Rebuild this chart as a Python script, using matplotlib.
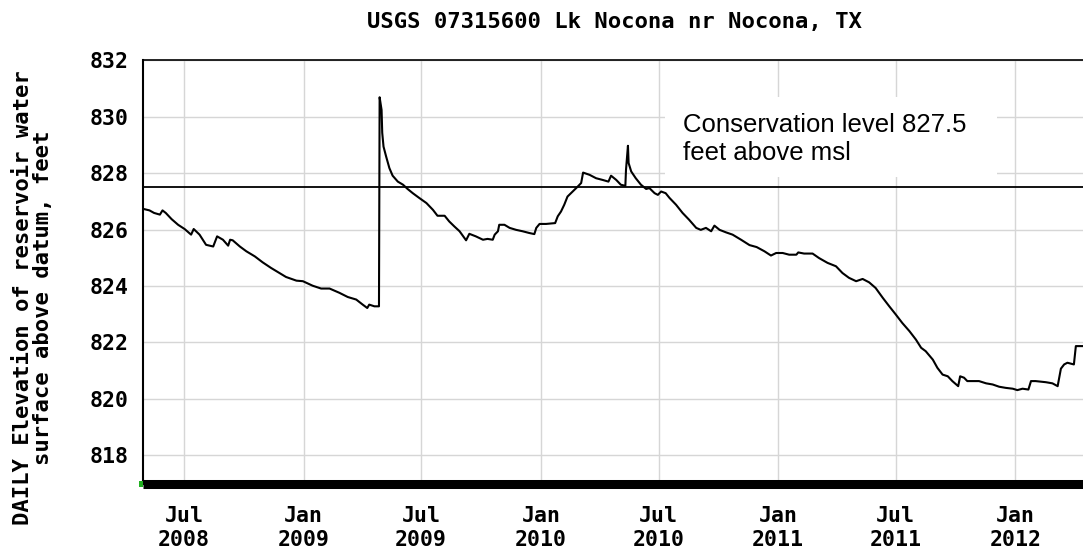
import matplotlib
matplotlib.use("Agg")
import matplotlib.pyplot as plt
from matplotlib.patches import Rectangle
import pandas as pd

# daily lake elevation, feet above datum
dates = [
    "2008-04-30", "2008-05-09", "2008-05-16", "2008-05-25", "2008-05-29", "2008-06-03",
    "2008-06-12", "2008-06-22", "2008-07-02", "2008-07-12", "2008-07-16", "2008-07-25",
    "2008-08-04", "2008-08-15", "2008-08-21", "2008-08-30", "2008-09-07", "2008-09-10",
    "2008-09-14", "2008-09-25", "2008-10-05", "2008-10-18", "2008-10-30", "2008-11-12",
    "2008-11-25", "2008-12-05", "2008-12-21", "2008-12-31", "2009-01-15", "2009-01-28",
    "2009-02-10", "2009-02-25", "2009-03-10", "2009-03-23", "2009-04-02", "2009-04-09",
    "2009-04-12", "2009-04-20", "2009-04-27", "2009-04-28", "2009-05-01", "2009-05-02",
    "2009-05-04", "2009-05-08", "2009-05-13", "2009-05-18", "2009-05-26", "2009-06-03",
    "2009-06-10", "2009-06-18", "2009-06-28", "2009-07-09", "2009-07-19", "2009-07-26",
    "2009-08-06", "2009-08-13", "2009-08-21", "2009-08-29", "2009-09-08", "2009-09-13",
    "2009-09-23", "2009-10-04", "2009-10-11", "2009-10-19", "2009-10-22", "2009-10-27",
    "2009-10-29", "2009-11-06", "2009-11-14", "2009-11-24", "2009-12-04", "2009-12-14",
    "2009-12-22", "2009-12-25", "2009-12-30", "2010-01-09", "2010-01-23", "2010-01-27",
    "2010-02-01", "2010-02-06", "2010-02-11", "2010-02-19", "2010-02-27", "2010-03-04",
    "2010-03-07", "2010-03-17", "2010-03-27", "2010-04-06", "2010-04-15", "2010-04-19",
    "2010-04-27", "2010-05-04", "2010-05-11", "2010-05-12", "2010-05-15", "2010-05-16",
    "2010-05-20", "2010-05-27", "2010-06-04", "2010-06-12", "2010-06-17", "2010-06-25",
    "2010-06-30", "2010-07-05", "2010-07-12", "2010-07-18", "2010-07-28", "2010-08-07",
    "2010-08-17", "2010-08-28", "2010-09-04", "2010-09-12", "2010-09-20", "2010-09-25",
    "2010-10-03", "2010-10-13", "2010-10-23", "2010-11-05", "2010-11-18", "2010-11-29",
    "2010-12-11", "2010-12-21", "2010-12-29", "2011-01-08", "2011-01-18", "2011-01-29",
    "2011-02-01", "2011-02-10", "2011-02-23", "2011-03-05", "2011-03-18", "2011-03-31",
    "2011-04-10", "2011-04-20", "2011-05-01", "2011-05-11", "2011-05-21", "2011-05-31",
    "2011-06-11", "2011-06-21", "2011-07-01", "2011-07-11", "2011-07-22", "2011-08-01",
    "2011-08-09", "2011-08-16", "2011-08-27", "2011-09-03", "2011-09-11", "2011-09-19",
    "2011-09-26", "2011-10-05", "2011-10-08", "2011-10-14", "2011-10-19", "2011-10-30",
    "2011-11-06", "2011-11-17", "2011-11-27", "2011-12-07", "2011-12-17", "2011-12-28",
    "2012-01-04", "2012-01-12", "2012-01-21", "2012-01-25", "2012-02-01", "2012-02-17",
    "2012-02-27", "2012-03-06", "2012-03-08", "2012-03-11", "2012-03-16", "2012-03-21",
    "2012-03-31", "2012-04-03", "2012-04-16",
]
elev = [
    826.73, 826.68, 826.59, 826.53, 826.68, 826.59,
    826.37, 826.17, 826.02, 825.82, 826.02, 825.82,
    825.46, 825.40, 825.76, 825.64, 825.43, 825.64,
    825.62, 825.40, 825.23, 825.05, 824.84, 824.64,
    824.46, 824.32, 824.19, 824.17, 824.01, 823.91,
    823.91, 823.76, 823.61, 823.52, 823.34, 823.22,
    823.34, 823.28, 823.28, 830.69, 830.24, 829.43,
    828.94, 828.59, 828.18, 827.91, 827.70, 827.59,
    827.44, 827.29, 827.12, 826.94, 826.70, 826.49,
    826.49, 826.29, 826.11, 825.94, 825.62, 825.85,
    825.76, 825.64, 825.67, 825.64, 825.82, 825.94,
    826.17, 826.17, 826.06, 825.99, 825.94, 825.88,
    825.84, 826.06, 826.20, 826.20, 826.23, 826.47,
    826.64, 826.88, 827.17, 827.35, 827.53, 827.65,
    828.02, 827.94, 827.82, 827.76, 827.70, 827.91,
    827.76, 827.59, 827.55, 828.12, 828.97, 828.36,
    828.06, 827.82, 827.59, 827.44, 827.47, 827.29,
    827.23, 827.35, 827.29, 827.12, 826.88, 826.59,
    826.35, 826.06, 825.99, 826.06, 825.94, 826.14,
    825.99, 825.90, 825.82, 825.64, 825.45, 825.38,
    825.23, 825.08, 825.17, 825.17, 825.11, 825.11,
    825.19, 825.15, 825.15, 824.99, 824.82, 824.70,
    824.46, 824.29, 824.17, 824.25, 824.13, 823.93,
    823.58, 823.28, 822.99, 822.69, 822.40, 822.10,
    821.81, 821.69, 821.39, 821.10, 820.86, 820.80,
    820.63, 820.45, 820.80, 820.75, 820.63, 820.63,
    820.63, 820.55, 820.51, 820.43, 820.39, 820.36,
    820.31, 820.36, 820.33, 820.63, 820.63, 820.59,
    820.55, 820.45, 820.69, 821.07, 821.22, 821.28,
    821.22, 821.87, 821.87,
]

conservation_level = 827.5
y_ticks = [818, 820, 822, 824, 826, 828, 830, 832]
x_ticks = ["2008-07-01", "2009-01-01", "2009-07-01", "2010-01-01", "2010-07-01",
           "2011-01-01", "2011-07-01", "2012-01-01"]
x_labels = ["Jul\n2008", "Jan\n2009", "Jul\n2009", "Jan\n2010", "Jul\n2010",
            "Jan\n2011", "Jul\n2011", "Jan\n2012"]

W, H = 1083, 554
mono = "DejaVu Sans Mono"

fig = plt.figure(figsize=(W / 100, H / 100), dpi=100)
ax = fig.add_axes([143 / W, 1 - 483.5 / H, 1 - 143 / W, (483.5 - 60.3) / H])

ax.plot(pd.to_datetime(dates), elev, color="black", lw=1.5, zorder=3)
ax.axhline(conservation_level, color="black", lw=1.3, zorder=3)

ax.set_xlim(pd.Timestamp("2008-04-29"), pd.Timestamp("2012-04-14"))
ax.set_ylim(817, 832)
ax.set_yticks(y_ticks)
ax.set_xticks(pd.to_datetime(x_ticks))
ax.set_xticklabels(x_labels, linespacing=1.25)
ax.grid(True, color="#d6d6d6", lw=1.0, zorder=0)
ax.set_axisbelow(True)
ax.tick_params(axis="y", length=0, pad=10, labelsize=15.5)
ax.tick_params(axis="x", length=0, pad=16, labelsize=15.5)
for lab in ax.get_xticklabels() + ax.get_yticklabels():
    lab.set_family(mono)
    lab.set_weight("bold")

ax.spines["right"].set_visible(False)
ax.spines["top"].set_linewidth(1.2)
ax.spines["left"].set_linewidth(1.5)
ax.spines["bottom"].set_linewidth(6.5)
ax.spines["bottom"].set_capstyle("butt")

# small green marker at the start of the record bar
fig.patches.append(Rectangle((139 / W, 1 - 487 / H), 4 / W, 6 / H,
                             transform=fig.transFigure, fc="#22b022", ec="none"))

# note box
fig.patches.append(Rectangle((665 / W, 1 - 177 / H), 332 / W, 80 / H,
                             transform=fig.transFigure, fc="white", ec="none", zorder=2))
fig.text(683 / W, 1 - 139 / H, "Conservation level 827.5\nfeet above msl",
         family="Liberation Sans", fontsize=18.5, ha="left", va="center",
         linespacing=1.22, zorder=3)

fig.text(614 / W, 1 - 22 / H, "USGS 07315600 Lk Nocona nr Nocona, TX",
         family=mono, weight="bold", fontsize=16, ha="center", va="center")
fig.text(33 / W, 1 - 298 / H,
         "DAILY Elevation of reservoir water\nsurface above datum, feet",
         family=mono, weight="bold", fontsize=16, rotation=90,
         ha="center", va="center", multialignment="center", linespacing=1.0)

fig.savefig("out.png", dpi=100)
